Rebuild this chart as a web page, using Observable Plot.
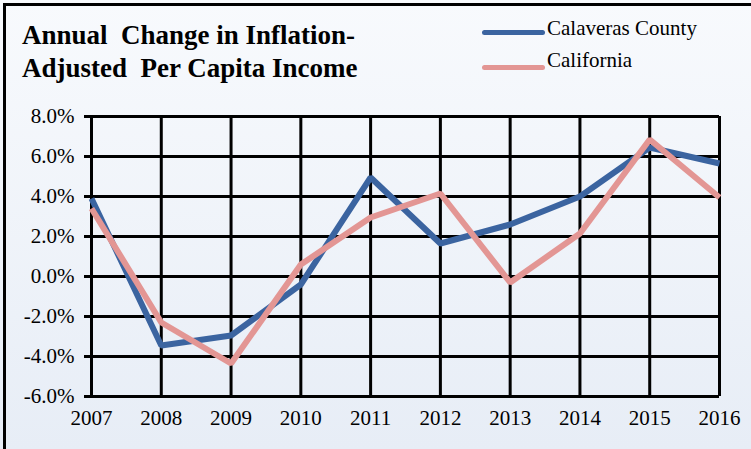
<!DOCTYPE html>
<html>
<head>
<meta charset="utf-8">
<script src="https://cdn.jsdelivr.net/npm/d3@7"></script>
<script src="https://cdn.jsdelivr.net/npm/@observablehq/plot@0.6"></script>
<style>
  html, body { margin: 0; padding: 0; }
  #wrap {
    position: relative; width: 751px; height: 449px; overflow: hidden;
    background: linear-gradient(#f8fafd, #e7edf6);
    font-family: "Liberation Serif", "Times New Roman", serif;
  }
  #frame { position: absolute; left: 3px; top: 3px; width: 800px; height: 500px;
    border-top: 3px solid #000; border-left: 3px solid #000; box-sizing: border-box; pointer-events: none; }
  #header { position: relative; height: 100px; }
  #title { position: absolute; left: 22px; top: 19px; font-weight: bold; font-size: 27px; line-height: 33px; color: #000; white-space: pre; }
  .leg { position: absolute; left: 482px; height: 30px; }
  .sw { position: absolute; left: 0; width: 63px; height: 5px; border-radius: 3px; }
  .lt { position: absolute; left: 65px; font-size: 21px; white-space: nowrap; color: #000; }
  #chart { position: absolute; left: 0; top: 100px; }
</style>
</head>
<body>
<div id="wrap">
  <div id="header">
    <div id="title"></div>
    <div id="legend"></div>
  </div>
  <div id="chart"></div>
  <div id="frame"></div>
</div>
<script>
const titleLines = ["Annual  Change in Inflation-", "Adjusted  Per Capita Income"];
const years = [2007, 2008, 2009, 2010, 2011, 2012, 2013, 2014, 2015, 2016];
const calaveras = [3.9, -3.45, -2.95, -0.4, 4.95, 1.65, 2.6, 4.0, 6.45, 5.65];
const california = [3.4, -2.3, -4.35, 0.6, 2.95, 4.15, -0.3, 2.15, 6.85, 3.95];
const seriesNames = ["Calaveras County", "California"];
const seriesColors = ["#3b64a0", "#e39694"];
const yTicks = [-6, -4, -2, 0, 2, 4, 6, 8];

document.getElementById("title").textContent = titleLines.join("\n");

const legend = document.getElementById("legend");
const legTops = [16, 48];
seriesNames.forEach((name, i) => {
  const d = document.createElement("div");
  d.className = "leg";
  d.style.top = legTops[i] + "px";
  d.innerHTML = `<div class="sw" style="top:${i === 0 ? 14 : 17}px;background:${seriesColors[i]}"></div><div class="lt" style="top:0px">${name}</div>`;
  legend.appendChild(d);
});

const rows = [];
years.forEach((y, i) => {
  rows.push({year: y, value: calaveras[i], series: seriesNames[0]});
  rows.push({year: y, value: california[i], series: seriesNames[1]});
});

const chart = Plot.plot({
  width: 751,
  height: 349,
  marginTop: 16,
  marginBottom: 53,
  marginLeft: 91,
  marginRight: 32,
  style: {background: "transparent", fontFamily: "Liberation Serif, Times New Roman, serif", color: "#000", overflow: "visible"},
  x: {domain: [2007, 2016], ticks: years, tickFormat: d => String(d), label: null},
  y: {domain: [-6, 8], ticks: yTicks, tickFormat: d => d.toFixed(1) + "%", label: null},
  marks: [
    Plot.ruleY(yTicks, {x1: 2007, x2: 2016, stroke: "#000", strokeWidth: 3}),
    Plot.ruleX(years, {y1: -6, y2: 8, stroke: "#000", strokeWidth: 3}),
    Plot.axisY({ticks: yTicks, tickSize: 7, tickPadding: 10, strokeWidth: 3, stroke: "#000", fontSize: 21, label: null, tickFormat: d => d.toFixed(1) + "%"}),
    Plot.axisX({ticks: years, tickSize: 0, tickPadding: 14, fontSize: 21, label: null, tickFormat: d => String(d)}),
    Plot.line(rows.filter(r => r.series === seriesNames[0]), {x: "year", y: "value", stroke: seriesColors[0], strokeWidth: 6, strokeLinejoin: "miter", strokeLinecap: "butt"}),
    Plot.line(rows.filter(r => r.series === seriesNames[1]), {x: "year", y: "value", stroke: seriesColors[1], strokeWidth: 6, strokeLinejoin: "miter", strokeLinecap: "butt"})
  ]
});
document.getElementById("chart").appendChild(chart);
</script>
</body>
</html>
